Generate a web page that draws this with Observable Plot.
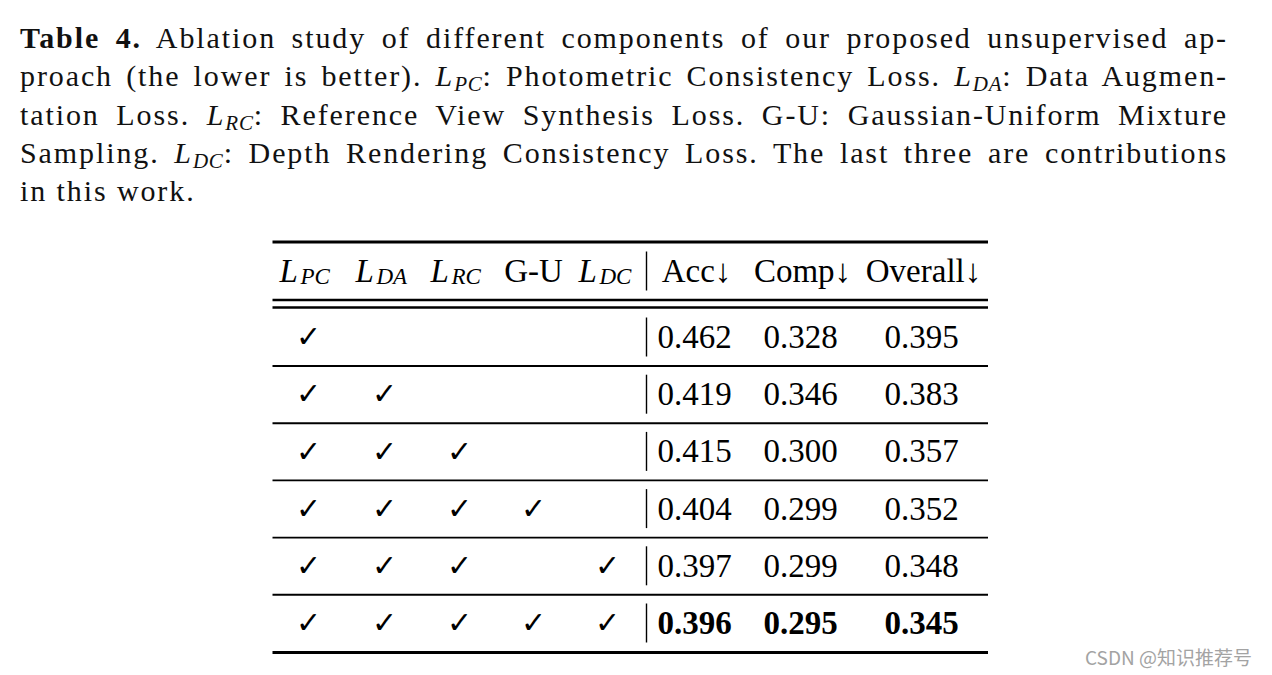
<!DOCTYPE html>
<html>
<head>
<meta charset="utf-8">
<script src="https://cdn.jsdelivr.net/npm/d3@7"></script>
<script src="https://cdn.jsdelivr.net/npm/@observablehq/plot@0.6"></script>
<style>
  html, body { margin: 0; padding: 0; background: #fff; }
  body { width: 1272px; height: 675px; position: relative; overflow: hidden; }
  #caption { position: relative; height: 215px; box-sizing: border-box; padding: 19px 0 0 20px; width: 1272px;
    font-family: "Liberation Serif", serif; font-size: 30px; letter-spacing: 1.9px; color: #111; }
  #caption .ln { width: 1208px; line-height: 38.3px; height: 38.3px; text-align: justify; text-align-last: justify; }
  #caption .ln.last { text-align-last: left; }
  #caption sub { font-size: 0.7em; vertical-align: -0.22em; line-height: 0; letter-spacing: 0.8px; }
  #chart svg { display: block; }
  #mark { position: absolute; left: 1085px; top: 646px; font-family: "Noto Sans CJK SC", "Noto Sans", sans-serif;
    font-size: 19px; line-height: 22px; color: #a3a3a3; }
</style>
</head>
<body>
<div id="caption">
  <div class="ln"><b>Table 4.</b> Ablation study of different components of our proposed unsupervised ap-</div>
  <div class="ln">proach (the lower is better). <i>L<sub>PC</sub></i>: Photometric Consistency Loss. <i>L<sub>DA</sub></i>: Data Augmen-</div>
  <div class="ln">tation Loss. <i>L<sub>RC</sub></i>: Reference View Synthesis Loss. G-U: Gaussian-Uniform Mixture</div>
  <div class="ln">Sampling. <i>L<sub>DC</sub></i>: Depth Rendering Consistency Loss. The last three are contributions</div>
  <div class="ln last">in this work.</div>
</div>
<div id="chart"></div>
<div id="mark">CSDN @知识推荐号</div>
<script>
// ---- data ----
const componentNames = ["L_PC", "L_DA", "L_RC", "G-U", "L_DC"];
const componentBase = ["L", "L", "L", "G-U", "L"];
const componentSub = ["PC", "DA", "RC", "", "DC"];
const metricNames = ["Acc↓", "Comp↓", "Overall↓"];
const used = [
  [1, 0, 0, 0, 0],
  [1, 1, 0, 0, 0],
  [1, 1, 1, 0, 0],
  [1, 1, 1, 1, 0],
  [1, 1, 1, 0, 1],
  [1, 1, 1, 1, 1]
];
const acc = [0.462, 0.419, 0.415, 0.404, 0.397, 0.396];
const comp = [0.328, 0.346, 0.300, 0.299, 0.299, 0.295];
const overall = [0.395, 0.383, 0.357, 0.352, 0.348, 0.345];
const bestRow = 5;

// ---- layout (page pixels) ----
const svgTop = 215, svgH = 460, W = 1272;
const compX = [308, 384, 459, 533, 607];
const metricX = [694, 800, 921];
const tableL = 272.5, tableR = 988;
const headerY = 271;
const firstRowY = 337, rowStep = 57.2;
const vlineX = 646, vHalf = 19.5;
const fontSize = 33;

const rowY = used.map((_, i) => firstRowY + i * rowStep);
const fmt = d3.format(".3f");

const rules = [
  {y: 241.5, w: 3},
  {y: 299.5, w: 2.4},
  {y: 307, w: 2.4},
  ...rowY.slice(0, -1).map(y => ({y: y + 28.5, w: 1.9})),
  {y: 652, w: 3}
];

const checks = [];
used.forEach((row, i) => row.forEach((u, j) => { if (u) checks.push({x: compX[j], y: rowY[i]}); }));

const metrics = [acc, comp, overall];
const values = [];
rowY.forEach((y, i) => metrics.forEach((m, k) => values.push({x: metricX[k], y, t: fmt(m[i]), best: i === bestRow})));

const headL = componentBase.map((b, j) => ({x: compX[j], b, s: componentSub[j]})).filter(d => d.s);
const headPlain = componentBase.map((b, j) => ({x: compX[j], b, s: componentSub[j]})).filter(d => !d.s);
const headMetric = metricNames.map((t, k) => ({x: metricX[k], t}));

const serif = "Liberation Serif";

const plot = Plot.plot({
  width: W, height: svgH,
  marginTop: 0, marginBottom: 0, marginLeft: 0, marginRight: 0,
  x: {type: "linear", domain: [0, W], range: [0, W], axis: null},
  y: {type: "linear", domain: [svgTop, svgTop + svgH], range: [0, svgH], axis: null},
  marks: [
    Plot.ruleY(rules, {y: "y", x1: tableL, x2: tableR, strokeWidth: d => d.w, stroke: "#000"}),
    Plot.ruleX([headerY, ...rowY], {x: vlineX, y1: d => d - vHalf, y2: d => d + vHalf, stroke: "#000", strokeWidth: 1.4}),
    // header: L with subscripts
    Plot.text(headL, {x: "x", y: headerY, text: "b", textAnchor: "start", dx: -29, fontFamily: serif, fontStyle: "italic", fontSize, fill: "#000"}),
    Plot.text(headL, {x: "x", y: headerY, text: "s", textAnchor: "start", dx: -8, dy: 5, fontFamily: serif, fontStyle: "italic", fontSize: 23, fill: "#000", style: "letter-spacing:1.5px"}),
    Plot.text(headPlain, {x: "x", y: headerY, text: "b", fontFamily: serif, fontSize, fill: "#000"}),
    Plot.text(headMetric, {x: "x", y: headerY, text: "t", dx: 2, fontFamily: serif, fontSize, fill: "#000", style: "letter-spacing:0.6px"}),
    // check marks
    Plot.text(checks, {x: "x", y: "y", text: () => "✓", fontFamily: "DejaVu Sans", fontSize: 30, fontWeight: "bold", fill: "#000"}),
    // values
    Plot.text(values.filter(d => !d.best), {x: "x", y: "y", text: "t", fontFamily: serif, fontSize, fill: "#000"}),
    Plot.text(values.filter(d => d.best), {x: "x", y: "y", text: "t", fontFamily: serif, fontWeight: "bold", fontSize, fill: "#000"})
  ]
});
document.getElementById("chart").appendChild(plot);
</script>
</body>
</html>
